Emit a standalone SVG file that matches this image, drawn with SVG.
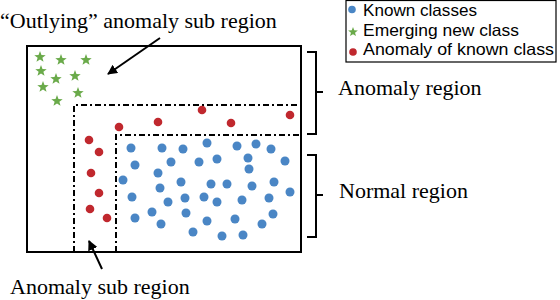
<svg xmlns="http://www.w3.org/2000/svg" width="560" height="300" viewBox="0 0 560 300">
<style>
.serif{font-family:"Liberation Serif","Times New Roman",serif;font-size:22px;fill:#000}
.leg{font-family:"Liberation Sans",Arial,sans-serif;font-size:16.5px;fill:#000}
.box{fill:none;stroke:#000;stroke-width:2}
.dd{fill:none;stroke:#000;stroke-width:2;stroke-dasharray:6 3 2 3}
.br{fill:none;stroke:#000;stroke-width:2}
.conn{stroke:#000;stroke-width:2;fill:none}
.b{fill:#4a86c5}
.r{fill:#c0282e}
.s{fill:#6aaa4a}
</style>
<defs>
<path id="star" d="M0,-6 L1.47,-2.02 L5.71,-1.85 L2.38,0.77 L3.53,4.85 L0,2.5 L-3.53,4.85 L-2.38,0.77 L-5.71,-1.85 L-1.47,-2.02 Z"/>
<marker id="ah" viewBox="0 0 10 10" refX="9" refY="5" markerWidth="5" markerHeight="5" orient="auto" markerUnits="strokeWidth">
<path d="M0,0 L10,5 L0,10 Z" fill="#000"/>
</marker>
</defs>

<g id="space">
<rect class="box" x="27" y="46" width="274" height="206"/>
</g>
<g id="anomaly-sub-region">
<polyline class="dd" points="74,252 74,105 301,105"/>
</g>
<g id="normal-inner-region">
<polyline class="dd" points="116,252 116,135 301,135"/>
</g>

<g id="emerging-stars" class="s">
<use href="#star" x="40" y="57"/>
<use href="#star" x="61" y="60"/>
<use href="#star" x="86" y="60"/>
<use href="#star" x="41" y="71"/>
<use href="#star" x="56" y="79"/>
<use href="#star" x="75" y="76"/>
<use href="#star" x="43" y="87"/>
<use href="#star" x="78" y="93"/>
<use href="#star" x="57" y="101"/>
</g>

<g id="anomaly-points" class="r">
<circle cx="202" cy="110" r="4.3"/>
<circle cx="290" cy="115" r="4.3"/>
<circle cx="158" cy="122" r="4.3"/>
<circle cx="231" cy="123" r="4.3"/>
<circle cx="119" cy="127" r="4.3"/>
<circle cx="89" cy="140" r="4.3"/>
<circle cx="99" cy="152" r="4.3"/>
<circle cx="91" cy="173" r="4.3"/>
<circle cx="99" cy="193" r="4.3"/>
<circle cx="90" cy="209" r="4.3"/>
<circle cx="107" cy="218" r="4.3"/>
</g>

<g id="known-points" class="b">
<circle cx="131" cy="148" r="4.5"/>
<circle cx="162" cy="148" r="4.5"/>
<circle cx="183" cy="149" r="4.5"/>
<circle cx="207" cy="143" r="4.5"/>
<circle cx="237" cy="146" r="4.5"/>
<circle cx="256" cy="144" r="4.5"/>
<circle cx="271" cy="149" r="4.5"/>
<circle cx="135" cy="165" r="4.5"/>
<circle cx="171" cy="162" r="4.5"/>
<circle cx="199" cy="162" r="4.5"/>
<circle cx="217" cy="159" r="4.5"/>
<circle cx="248" cy="158" r="4.5"/>
<circle cx="285" cy="161" r="4.5"/>
<circle cx="249" cy="169" r="4.5"/>
<circle cx="158" cy="173" r="4.5"/>
<circle cx="123" cy="180" r="4.5"/>
<circle cx="181" cy="182" r="4.5"/>
<circle cx="211" cy="184" r="4.5"/>
<circle cx="227" cy="184" r="4.5"/>
<circle cx="252" cy="186" r="4.5"/>
<circle cx="274" cy="182" r="4.5"/>
<circle cx="290" cy="192" r="4.5"/>
<circle cx="160" cy="188" r="4.5"/>
<circle cx="132" cy="197" r="4.5"/>
<circle cx="168" cy="202" r="4.5"/>
<circle cx="185" cy="198" r="4.5"/>
<circle cx="204" cy="197" r="4.5"/>
<circle cx="217" cy="202" r="4.5"/>
<circle cx="242" cy="200" r="4.5"/>
<circle cx="269" cy="198" r="4.5"/>
<circle cx="135" cy="218" r="4.5"/>
<circle cx="152" cy="212" r="4.5"/>
<circle cx="186" cy="213" r="4.5"/>
<circle cx="207" cy="221" r="4.5"/>
<circle cx="235" cy="219" r="4.5"/>
<circle cx="273" cy="214" r="4.5"/>
<circle cx="161" cy="224" r="4.5"/>
<circle cx="262" cy="224" r="4.5"/>
<circle cx="193" cy="232" r="4.5"/>
<circle cx="222" cy="236" r="4.5"/>
<circle cx="243" cy="235" r="4.5"/>
</g>

<g id="legend">
<rect x="346" y="0.5" width="210" height="61.5" fill="#fff" stroke="#000" stroke-width="1.2"/>
<circle class="b" cx="352" cy="9.5" r="3.8"/>
<use class="s" href="#star" transform="translate(353 32) scale(0.85)"/>
<circle class="r" cx="353" cy="52" r="3.8"/>
<text class="leg" x="363" y="16" textLength="114" lengthAdjust="spacingAndGlyphs">Known classes</text>
<text class="leg" x="363" y="36" textLength="156" lengthAdjust="spacingAndGlyphs">Emerging new class</text>
<text class="leg" x="363" y="55" textLength="191" lengthAdjust="spacingAndGlyphs">Anomaly of known class</text>
</g>

<g id="anomaly-region-label">
<path class="br" d="M307,52 L316,52 L316,134 L307,134 M316,92 L323,92"/>
<text class="serif" x="338" y="95">Anomaly region</text>
</g>
<g id="normal-region-label">
<path class="br" d="M307,155 L316,155 L316,237 L307,237 M316,195 L323,195"/>
<text class="serif" x="339" y="198">Normal region</text>
</g>

<g id="outlying-label">
<text class="serif" x="0" y="28">“Outlying” anomaly sub region</text>
</g>
<g id="anomaly-sub-label">
<text class="serif" x="10" y="294">Anomaly sub region</text>
</g>

<g id="connectors">
<line class="conn" x1="160" y1="38" x2="108" y2="74" marker-end="url(#ah)"/>
<line class="conn" x1="102" y1="269" x2="89" y2="241" marker-end="url(#ah)"/>
</g>
</svg>
